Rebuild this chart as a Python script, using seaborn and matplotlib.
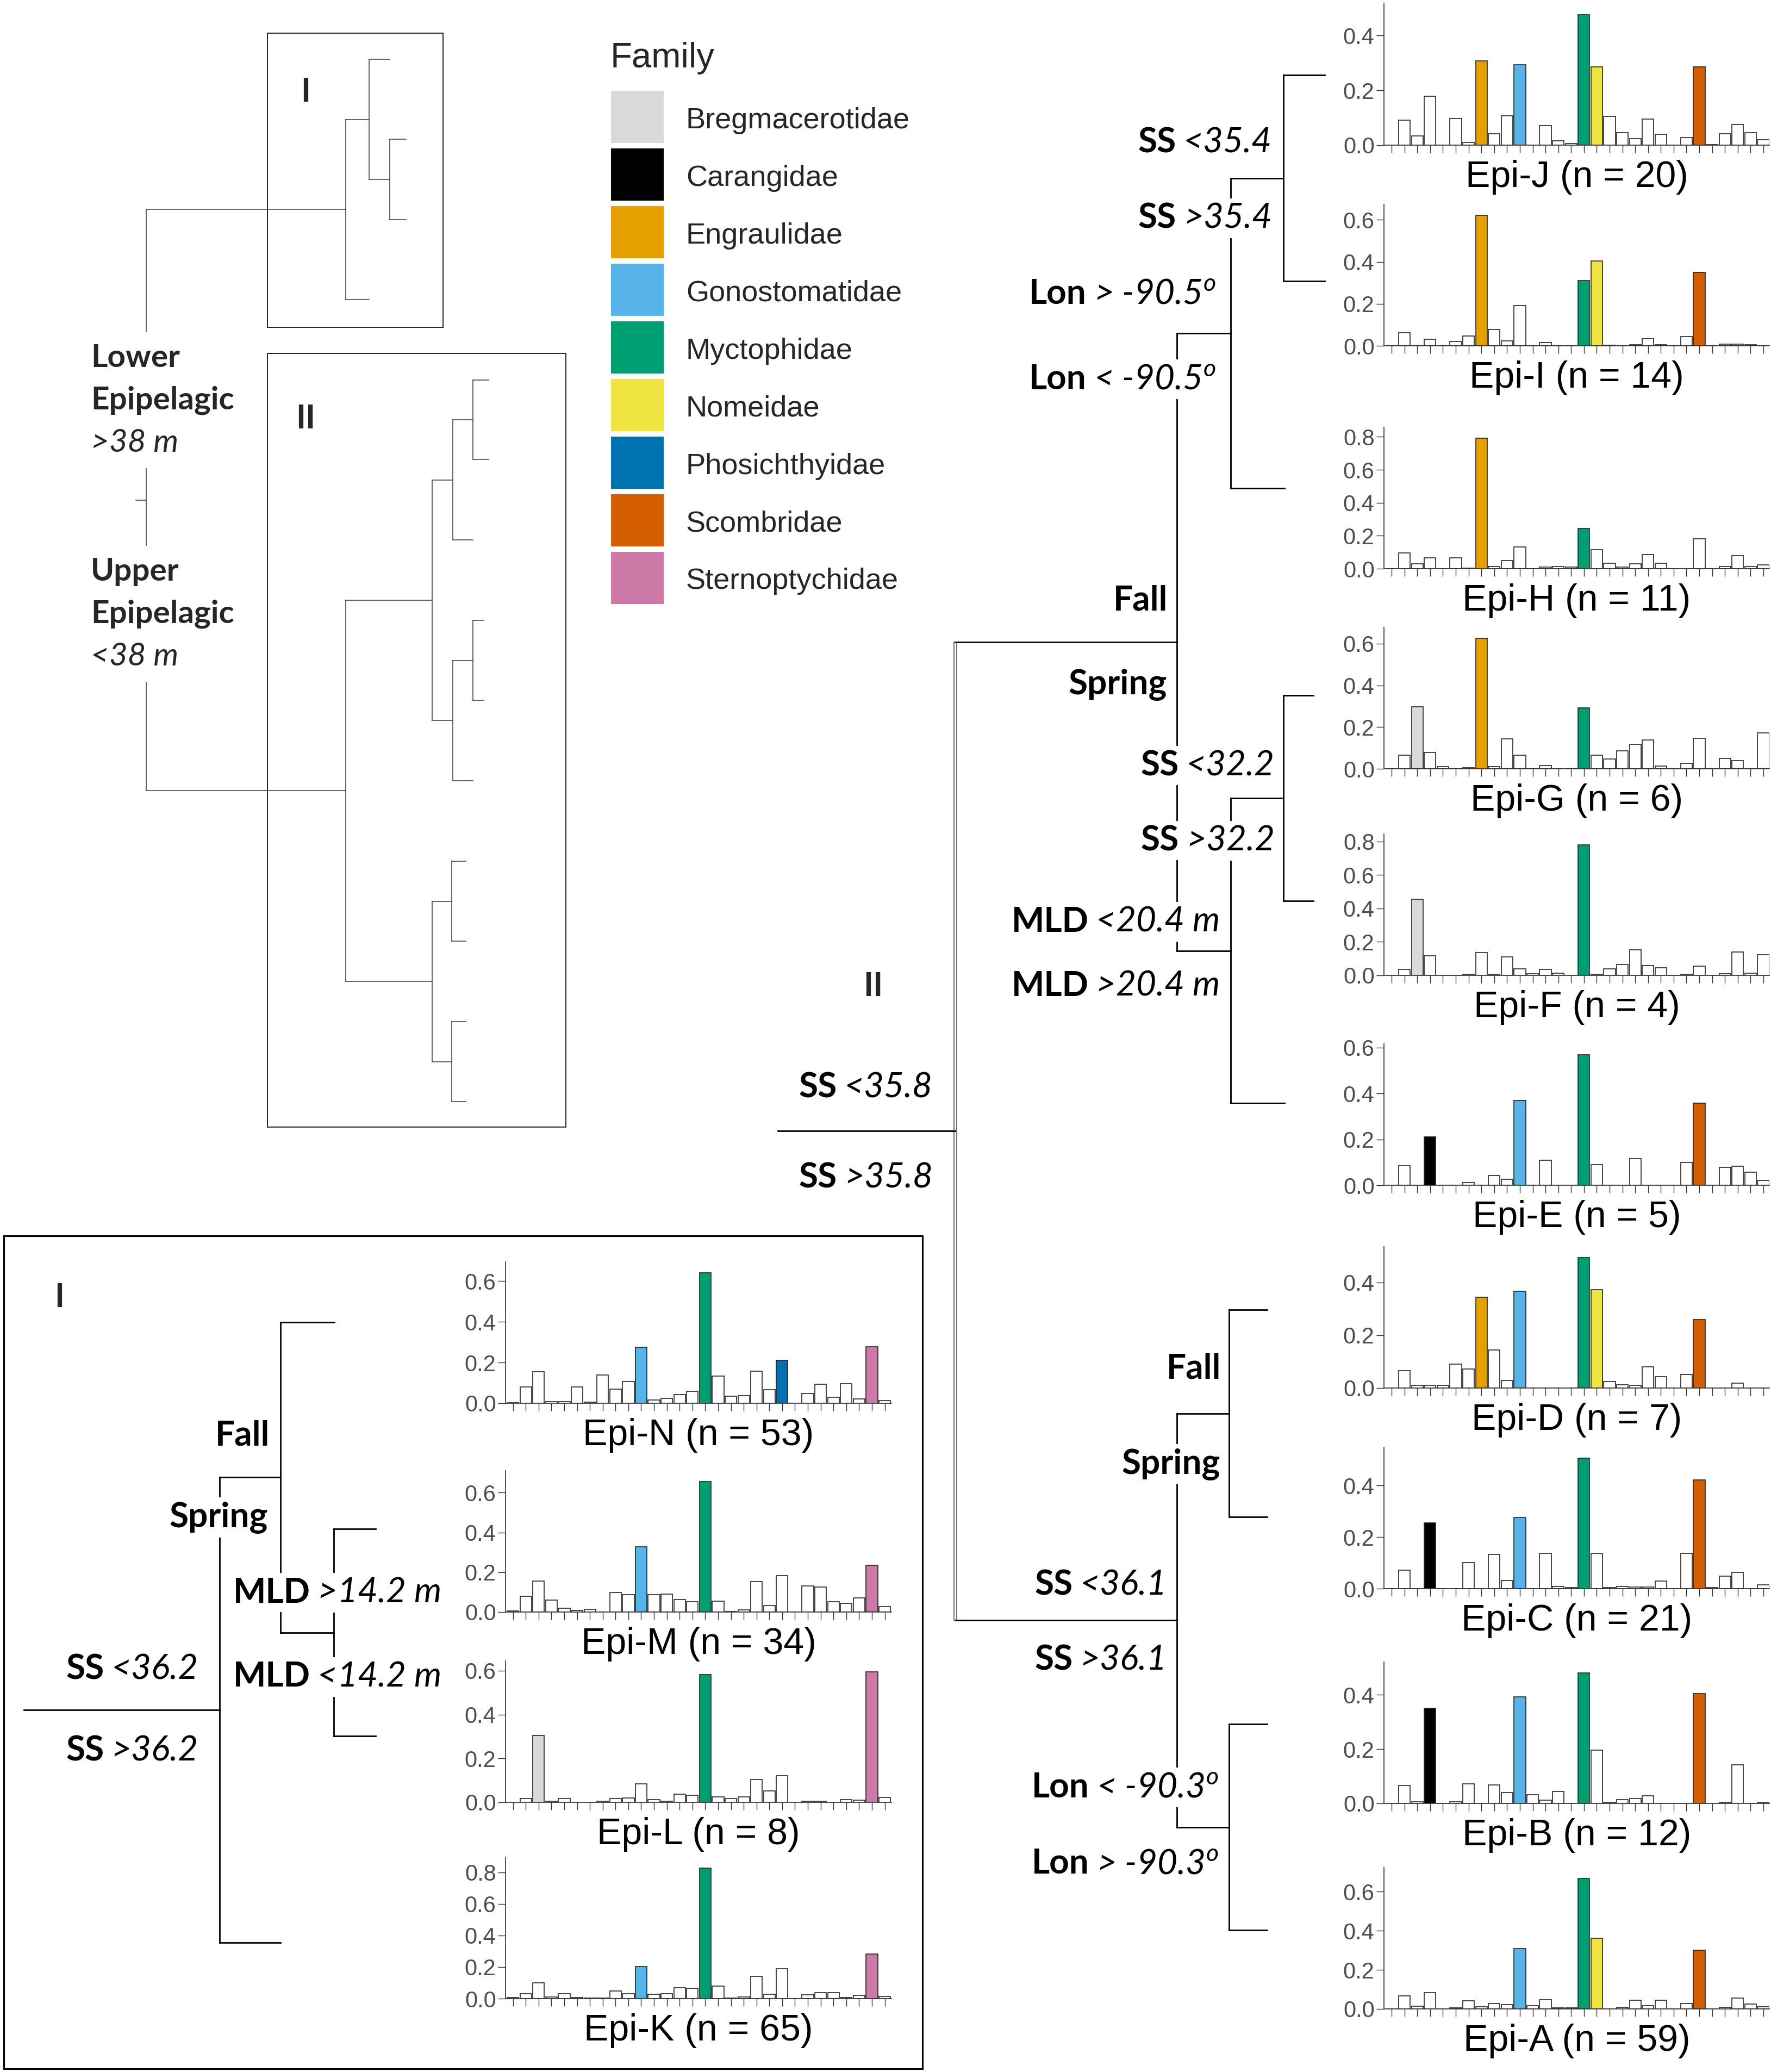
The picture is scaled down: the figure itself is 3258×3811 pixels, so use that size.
import matplotlib
matplotlib.use("Agg")
import matplotlib.pyplot as plt
from matplotlib.patches import Rectangle
from matplotlib.ticker import MultipleLocator, FormatStrFormatter
import pandas as pd
import seaborn as sns

W, H = 3258, 3811

# ── data ────────────────────────────────────────────────────────────────────
families = ["Bregmacerotidae", "Carangidae", "Engraulidae", "Gonostomatidae",
            "Myctophidae", "Nomeidae", "Phosichthyidae", "Scombridae", "Sternoptychidae"]
family_colors = ["#D9D9D9", "#000000", "#E69F00", "#56B4E9", "#009E73",
                 "#F0E442", "#0072B2", "#D55E00", "#CC79A7"]
family_slot = [2, 3, 7, 10, 15, 16, 21, 24, 28]   # bar position of each family's taxon
n_taxa = 30

epi_a = [0, 0.068, 0.013, 0.084, 0, 0.006, 0.043, 0.010, 0.028, 0.021, 0.309, 0.018, 0.048, 0.006, 0.005,
         0.666, 0.361, 0, 0.009, 0.045, 0.018, 0.045, 0, 0.028, 0.300, 0, 0.008, 0.056, 0.024, 0.010]
epi_b = [0, 0.067, 0.006, 0.351, 0, 0.006, 0.072, 0, 0.069, 0.040, 0.392, 0.032, 0.013, 0.044, 0,
         0.480, 0.196, 0.005, 0.014, 0.019, 0.029, 0, 0, 0, 0.405, 0, 0.005, 0.142, 0, 0.005]
epi_c = [0, 0.072, 0, 0.255, 0, 0, 0.102, 0, 0.133, 0.031, 0.277, 0, 0.136, 0.008, 0.004,
         0.505, 0.137, 0.004, 0.009, 0.006, 0.006, 0.029, 0, 0.137, 0.421, 0.004, 0.049, 0.064, 0, 0.015]
epi_d = [0, 0.066, 0.010, 0.010, 0.010, 0.091, 0.072, 0.344, 0.144, 0.028, 0.367, 0, 0, 0, 0,
         0.494, 0.374, 0.025, 0.012, 0.010, 0.081, 0.043, 0, 0.052, 0.259, 0, 0, 0.019, 0, 0]
epi_e = [0, 0.086, 0, 0.210, 0, 0, 0.011, 0, 0.042, 0.027, 0.370, 0, 0.109, 0, 0,
         0.568, 0.090, 0, 0, 0.117, 0, 0, 0, 0.099, 0.357, 0, 0.078, 0.082, 0.058, 0.022]
epi_f = [0, 0.036, 0.455, 0.118, 0, 0, 0.006, 0.136, 0.006, 0.111, 0.038, 0.009, 0.035, 0.012, 0,
         0.778, 0.006, 0.039, 0.064, 0.152, 0.058, 0.044, 0, 0.006, 0.054, 0, 0.009, 0.140, 0.012, 0.124]
epi_g = [0, 0.064, 0.297, 0.077, 0.010, 0, 0.006, 0.625, 0.010, 0.143, 0.064, 0, 0.016, 0, 0,
         0.291, 0.064, 0.047, 0.086, 0.117, 0.138, 0.014, 0, 0.025, 0.147, 0, 0.049, 0.040, 0, 0.172]
epi_h = [0, 0.095, 0.029, 0.065, 0, 0.065, 0.003, 0.790, 0.014, 0.049, 0.132, 0, 0.009, 0.014, 0.010,
         0.243, 0.115, 0.032, 0.009, 0.030, 0.085, 0.032, 0, 0, 0.181, 0, 0.014, 0.078, 0.014, 0.022]
epi_i = [0, 0.063, 0, 0.030, 0, 0.021, 0.047, 0.621, 0.079, 0.024, 0.193, 0, 0.015, 0, 0,
         0.310, 0.403, 0.003, 0, 0.006, 0.033, 0.006, 0, 0.043, 0.349, 0, 0.007, 0.007, 0.004, 0]
epi_j = [0, 0.091, 0.033, 0.178, 0, 0.097, 0.009, 0.308, 0.041, 0.107, 0.293, 0, 0.072, 0.015, 0.005,
         0.475, 0.285, 0.106, 0.045, 0.024, 0.095, 0.039, 0, 0.028, 0.285, 0.002, 0.041, 0.075, 0.045, 0.019]
epi_k = [0.008, 0.032, 0.101, 0.012, 0.032, 0.008, 0.002, 0.003, 0.048, 0.032, 0.203, 0.027, 0.030, 0.068, 0.066,
         0.826, 0.081, 0.003, 0.009, 0.143, 0.027, 0.191, 0, 0.024, 0.039, 0.039, 0.008, 0.021, 0.281, 0.014]
epi_l = [0, 0.017, 0.305, 0.006, 0.018, 0, 0, 0.006, 0.018, 0.021, 0.085, 0.012, 0.004, 0.036, 0.032,
         0.582, 0.024, 0.018, 0.024, 0.104, 0.051, 0.121, 0, 0.006, 0.004, 0, 0.012, 0.010, 0.594, 0.022]
epi_m = [0.005, 0.079, 0.157, 0.061, 0.020, 0.009, 0.015, 0, 0.098, 0.087, 0.329, 0.087, 0.090, 0.064, 0.053,
         0.655, 0.055, 0.004, 0.010, 0.153, 0.033, 0.183, 0, 0.130, 0.126, 0.053, 0.043, 0.071, 0.236, 0.026]
epi_n = [0.002, 0.080, 0.154, 0.007, 0.008, 0.079, 0.005, 0.138, 0.070, 0.108, 0.275, 0.017, 0.023, 0.043, 0.060,
         0.640, 0.134, 0.036, 0.038, 0.157, 0.068, 0.212, 0, 0.049, 0.094, 0.029, 0.097, 0.022, 0.277, 0.013]

# families drawn in colour for each cluster (the rest are white)
marked_a = ["Gonostomatidae", "Myctophidae", "Nomeidae", "Scombridae"]
marked_b = ["Carangidae", "Gonostomatidae", "Myctophidae", "Scombridae"]
marked_c = ["Carangidae", "Gonostomatidae", "Myctophidae", "Scombridae"]
marked_d = ["Engraulidae", "Gonostomatidae", "Myctophidae", "Nomeidae", "Scombridae"]
marked_e = ["Carangidae", "Gonostomatidae", "Myctophidae", "Scombridae"]
marked_f = ["Bregmacerotidae", "Myctophidae"]
marked_g = ["Bregmacerotidae", "Engraulidae", "Myctophidae"]
marked_h = ["Engraulidae", "Myctophidae"]
marked_i = ["Engraulidae", "Myctophidae", "Nomeidae", "Scombridae"]
marked_j = ["Engraulidae", "Gonostomatidae", "Myctophidae", "Nomeidae", "Scombridae"]
marked_k = ["Gonostomatidae", "Myctophidae", "Sternoptychidae"]
marked_l = ["Bregmacerotidae", "Myctophidae", "Sternoptychidae"]
marked_m = ["Gonostomatidae", "Myctophidae", "Sternoptychidae"]
marked_n = ["Gonostomatidae", "Myctophidae", "Phosichthyidae", "Sternoptychidae"]

right_names = ["Epi-J", "Epi-I", "Epi-H", "Epi-G", "Epi-F", "Epi-E", "Epi-D", "Epi-C", "Epi-B", "Epi-A"]
right_n = [20, 14, 11, 6, 4, 5, 7, 21, 12, 59]
right_vals = [epi_j, epi_i, epi_h, epi_g, epi_f, epi_e, epi_d, epi_c, epi_b, epi_a]
right_marked = [marked_j, marked_i, marked_h, marked_g, marked_f, marked_e, marked_d, marked_c, marked_b, marked_a]

left_names = ["Epi-N", "Epi-M", "Epi-L", "Epi-K"]
left_n = [53, 34, 8, 65]
left_vals = [epi_n, epi_m, epi_l, epi_k]
left_marked = [marked_n, marked_m, marked_l, marked_k]

# ── layout (pixels) ─────────────────────────────────────────────────────────
right_x0, right_w, right_xlim = 2546, 709, (-0.6, 29.47)
right_base = [267, 636, 1046, 1414, 1794, 2180, 2553, 2922, 3317, 3695]
left_x0, left_w, left_xlim = 930, 710, (-0.58, 29.53)
left_base = [2581, 2965, 3315, 3676]
panel_h = 260

SANS = ["Liberation Sans", "DejaVu Sans"]
TREE = ["Lato", "DejaVu Sans"]

sns.set_style("ticks")
plt.rcParams["font.family"] = SANS
plt.rcParams["mathtext.fontset"] = "custom"
plt.rcParams["mathtext.it"] = "Lato:italic"
plt.rcParams["mathtext.rm"] = "Lato"

fig = plt.figure(figsize=(W / 100, H / 100), dpi=100)
ov = fig.add_axes([0, 0, 1, 1])
ov.set_xlim(0, W)
ov.set_ylim(H, 0)
ov.axis("off")
renderer = fig.canvas.get_renderer()


def bar_panel(x0, base, width, xlim, vals, marked, title):
    ax = fig.add_axes([x0 / W, 1 - base / H, width / W, panel_h / H])
    ax.set_facecolor("none")
    pal = {i: "white" for i in range(n_taxa)}
    for fam in marked:
        k = families.index(fam)
        pal[family_slot[k]] = family_colors[k]
    df = pd.DataFrame({"taxon": range(n_taxa), "share": vals})
    sns.barplot(data=df, x="taxon", y="share", hue="taxon", palette=pal, legend=False,
                width=0.9, edgecolor="#262626", linewidth=1.2, saturation=1,
                errorbar=None, ax=ax)
    ax.set_xlim(*xlim)
    ax.set_ylim(0, max(vals) * 1.085)
    ax.yaxis.set_major_locator(MultipleLocator(0.2))
    ax.yaxis.set_major_formatter(FormatStrFormatter("%.1f"))
    ax.set_xticks(range(n_taxa))
    ax.set_xticklabels([])
    ax.set_xlabel("")
    ax.set_ylabel("")
    sns.despine(ax=ax)
    for s in ("left", "bottom"):
        ax.spines[s].set_linewidth(1.2)
        ax.spines[s].set_color("#333333")
    ax.tick_params(axis="y", length=10, width=1, color="#333333", labelcolor="#4D4D4D",
                   labelsize=30, pad=2.5)
    ax.tick_params(axis="x", length=10, width=1, color="#333333")
    ax.text(0.5, -52 / panel_h, title, transform=ax.transAxes, ha="center",
            va="center_baseline", fontsize=49, color="black")


for i in range(len(right_names)):
    bar_panel(right_x0, right_base[i], right_w, right_xlim, right_vals[i], right_marked[i],
              f"{right_names[i]} (n = {right_n[i]})")
for i in range(len(left_names)):
    bar_panel(left_x0, left_base[i], left_w, left_xlim, left_vals[i], left_marked[i],
              f"{left_names[i]} (n = {left_n[i]})")


# ── dendrograms ─────────────────────────────────────────────────────────────
def leaf(y, x_end):
    return {"x": x_end, "y": y}


def node(x, *kids):
    return {"x": x, "kids": kids}


def draw_tree(nd, **kw):
    if "kids" not in nd:
        return nd["y"]
    ys = []
    for k in nd["kids"]:
        y = draw_tree(k, **kw)
        ov.plot([nd["x"], k["x"]], [y, y], **kw)
        ys.append(y)
    ov.plot([nd["x"], nd["x"]], [min(ys), max(ys)], **kw)
    return sum(ys) / len(ys)


thin = dict(color="#3a3a3a", lw=1.1, solid_capstyle="projecting", zorder=1)
bold = dict(color="black", lw=2.0, solid_capstyle="projecting", zorder=1)

overview_tree = node(269,
    node(636, node(679, leaf(109, 717), node(717, leaf(256, 747), leaf(404, 747))), leaf(551, 679)),
    node(636,
         node(795, node(833, node(870, leaf(699, 899), leaf(845, 899)), leaf(993, 870)),
              node(833, node(870, leaf(1141, 890), leaf(1288, 890)), leaf(1436, 870))),
         node(795, node(831, leaf(1584, 857), leaf(1731, 857)),
              node(831, leaf(1879, 857), leaf(2026, 857)))))
y0 = draw_tree(overview_tree, **thin)
ov.plot([250, 269], [y0, y0], **thin)
ov.add_patch(Rectangle((492, 61), 323, 541, fill=False, ec="#222222", lw=1.4, zorder=2))
ov.add_patch(Rectangle((492, 650), 549, 1423, fill=False, ec="#222222", lw=1.4, zorder=2))

upper = node(2165,
             node(2264, node(2361, leaf(138, 2437), leaf(517, 2437)), leaf(898, 2363)),
             node(2264, node(2361, leaf(1279, 2416), leaf(1657, 2416)), leaf(2029, 2363)))
lower = node(2165,
             node(2261, leaf(2409, 2331), leaf(2790, 2331)),
             node(2261, leaf(3171, 2331), leaf(3550, 2331)))
yu = draw_tree(upper, **bold)
yl = draw_tree(lower, **bold)
for yy in (yu, yl):
    ov.plot([1757, 2165], [yy, yy], **bold)
for xx in (1755, 1760):
    ov.plot([xx, xx], [yu, yl], color="#444444", lw=1.1, zorder=1)
ov.plot([1431, 1757], [(yu + yl) / 2] * 2, **bold)

group1_tree = node(404, node(516, leaf(2432, 615), node(614, leaf(2812, 691), leaf(3193, 691))),
                   leaf(3573, 516))
y1 = draw_tree(group1_tree, **bold)
ov.plot([44, 404], [y1, y1], **bold)
ov.add_patch(Rectangle((7, 2273), 1690, 1532, fill=False, ec="black", lw=2.2, zorder=2))


# ── split labels ────────────────────────────────────────────────────────────
def split_label(x_right, y, strong, ital, size=46):
    kw = dict(va="center_baseline", fontsize=size, family=TREE, zorder=4, color="black",
              bbox=dict(boxstyle="square,pad=0.12", fc="white", ec="none"))
    if ital:
        t = ov.text(x_right, y, ital, ha="right", style="italic", **kw)
        w = t.get_window_extent(renderer).width
        x_right = x_right - w - 0.2 * size * 100 / 72
    ov.text(x_right, y, strong, ha="right", weight="bold", **kw)


tree_labels = [
    (2340, 257, "SS", "<35.4"), (2340, 396, "SS", ">35.4"),
    (2236, 535, "Lon", "> -90.5$^{o}$"), (2236, 692, "Lon", "< -90.5$^{o}$"),
    (2148, 1099, "Fall", ""), (2147, 1253, "Spring", ""),
    (2345, 1403, "SS", "<32.2"), (2345, 1541, "SS", ">32.2"),
    (2244, 1690, "MLD", "<20.4 m"), (2244, 1808, "MLD", ">20.4 m"),
    (1716, 1995, "SS", "<35.8"), (1716, 2161, "SS", ">35.8"),
    (2246, 2512, "Fall", ""), (2245, 2687, "Spring", ""),
    (2147, 2910, "SS", "<36.1"), (2147, 3048, "SS", ">36.1"),
    (2241, 3282, "Lon", "< -90.3$^{o}$"), (2241, 3423, "Lon", "> -90.3$^{o}$"),
    (496, 2635, "Fall", ""), (493, 2785, "Spring", ""),
    (812, 2924, "MLD", ">14.2 m"), (812, 3079, "MLD", "<14.2 m"),
    (365, 3065, "SS", "<36.2"), (365, 3215, "SS", ">36.2"),
]
for xr, yy, s, it in tree_labels:
    split_label(xr, yy, s, it)

depth_lines = [("Lower", "bold", "normal", 653), ("Epipelagic", "bold", "normal", 731),
               (">38 m", "normal", "italic", 809), ("Upper", "bold", "normal", 1046),
               ("Epipelagic", "bold", "normal", 1124), ("<38 m", "normal", "italic", 1202)]
for txt, wt, st, yy in depth_lines:
    ov.text(167, yy, txt, ha="left", va="center_baseline", fontsize=42, family=TREE,
            weight=wt, style=st, zorder=4,
            bbox=dict(boxstyle="square,pad=0.35", fc="white", ec="none"))

for txt, xx, yy in [("I", 562, 164), ("II", 562, 765), ("II", 1606, 1809), ("I", 109, 2381)]:
    ov.text(xx, yy, txt, ha="center", va="center_baseline", fontsize=44, family=TREE,
            weight="bold", zorder=4)

# ── legend ──────────────────────────────────────────────────────────────────
ov.text(1123, 100, "Family", ha="left", va="center_baseline", fontsize=47)
for i, (fam, col) in enumerate(zip(families, family_colors)):
    ov.add_patch(Rectangle((1124, 167 + 106 * i), 97, 96, fc=col, ec="none"))
    ov.text(1262, 216 + 106 * i, fam, ha="left", va="center_baseline", fontsize=39)

fig.savefig("out.png", dpi=100)
